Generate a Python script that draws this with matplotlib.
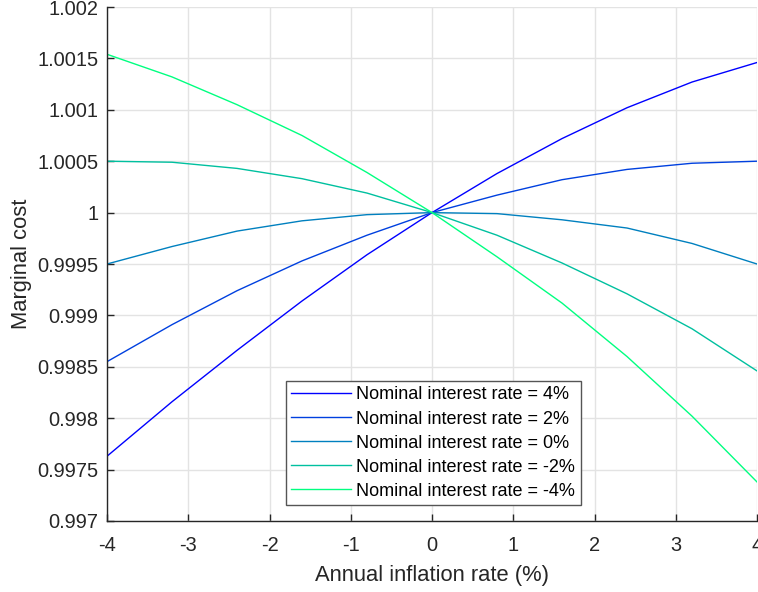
import matplotlib
matplotlib.use('Agg')
import matplotlib.pyplot as plt
import matplotlib.ticker as mticker
import numpy as np

# ── Data ──
inflation = [-4, -3.2, -2.4, -1.6, -0.8, 0, 0.8, 1.6, 2.4, 3.2, 4]
rates = [4, 2, 0, -2, -4]

cost_4 = [0.99763, 0.99816, 0.99866, 0.99914, 0.99959, 1.0,
          1.00038, 1.00072, 1.00102, 1.00127, 1.00146]
cost_2 = [0.99855, 0.99891, 0.99924, 0.99953, 0.99978, 1.0,
          1.00017, 1.00032, 1.00042, 1.00048, 1.00050]
cost_0 = [0.99950, 0.99967, 0.99982, 0.99992, 0.99998, 1.0,
          0.99999, 0.99993, 0.99985, 0.99970, 0.99950]
cost_m2 = [1.00050, 1.00049, 1.00043, 1.00033, 1.00019, 1.0,
           0.99978, 0.99951, 0.99921, 0.99887, 0.99846]
cost_m4 = [1.00154, 1.00132, 1.00105, 1.00075, 1.00039, 1.0,
           0.99957, 0.99912, 0.99860, 0.99802, 0.99738]

series = [cost_4, cost_2, cost_0, cost_m2, cost_m4]

TXT = '#262626'
plt.rcParams.update({
    'font.family': ['Liberation Sans', 'DejaVu Sans'],
    'font.size': 14.4,
})

fig = plt.figure(figsize=(7.58, 5.92), dpi=100)
ax = fig.add_axes([107 / 758, 71 / 592, 650 / 758, 514 / 592])

colors = plt.cm.winter(np.linspace(0, 1, len(series)))
for vals, r, c in zip(series, rates, colors):
    ax.plot(inflation, vals, color=c, linewidth=1.0,
            label=f'Nominal interest rate = {r}%')

ax.set_xlim(-4, 4)
ax.set_ylim(0.997, 1.002)
ax.set_xticks(np.arange(-4, 5, 1))
ax.set_yticks(np.arange(0.997, 1.00201, 0.0005))
ax.xaxis.set_major_formatter(mticker.FuncFormatter(lambda v, p: f'{v:g}'))
ax.yaxis.set_major_formatter(mticker.FuncFormatter(lambda v, p: f'{round(v, 5):g}'))

ax.grid(True, color='#e3e3e3', linewidth=1.0)
ax.set_axisbelow(True)
ax.spines['top'].set_visible(False)
ax.spines['right'].set_visible(False)
for s in ['left', 'bottom']:
    ax.spines[s].set_color(TXT)
    ax.spines[s].set_linewidth(1.0)
ax.tick_params(direction='in', length=5, width=1.0, color=TXT,
               labelcolor=TXT, labelsize=14.4)
ax.tick_params(axis='y', pad=6)
ax.tick_params(axis='x', pad=10.5)

ax.set_xlabel('Annual inflation rate (%)', fontsize=15.8, color=TXT, labelpad=7.5)
ax.set_ylabel('Marginal cost', fontsize=15.8, color=TXT, labelpad=4)

leg = ax.legend(loc='lower left', bbox_to_anchor=(0.2754, 0.031),
                borderaxespad=0, fontsize=13, frameon=True, fancybox=False,
                handlelength=3.3, handletextpad=0.3, labelspacing=0.39,
                borderpad=0.3, framealpha=1)
leg.get_frame().set_edgecolor('#555555')
leg.get_frame().set_linewidth(1.0)
for t in leg.get_texts():
    t.set_color('black')

fig.savefig('out.png', dpi=100)
